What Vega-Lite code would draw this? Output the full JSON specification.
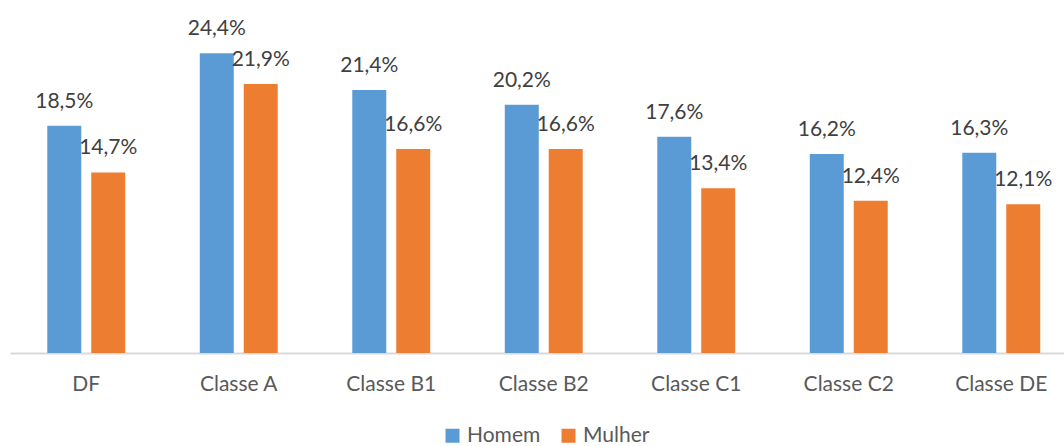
{
  "$schema": "https://vega.github.io/schema/vega-lite/v6.json",
  "width": 1054,
  "height": 344,
  "padding": {"left": 10, "top": 9, "right": 0, "bottom": 93},
  "autosize": {"type": "none"},
  "config": {
    "locale": {"number": {"decimal": ",", "thousands": ".", "grouping": [3], "currency": ["R$", ""]}},
    "view": {"stroke": null},
    "font": "Lato"
  },
  "data": {
    "values": [
      {"cat": "DF", "sexo": "Homem", "v": 0.185},
      {"cat": "DF", "sexo": "Mulher", "v": 0.147},
      {"cat": "Classe A", "sexo": "Homem", "v": 0.244},
      {"cat": "Classe A", "sexo": "Mulher", "v": 0.219},
      {"cat": "Classe B1", "sexo": "Homem", "v": 0.214},
      {"cat": "Classe B1", "sexo": "Mulher", "v": 0.166},
      {"cat": "Classe B2", "sexo": "Homem", "v": 0.202},
      {"cat": "Classe B2", "sexo": "Mulher", "v": 0.166},
      {"cat": "Classe C1", "sexo": "Homem", "v": 0.176},
      {"cat": "Classe C1", "sexo": "Mulher", "v": 0.134},
      {"cat": "Classe C2", "sexo": "Homem", "v": 0.162},
      {"cat": "Classe C2", "sexo": "Mulher", "v": 0.124},
      {"cat": "Classe DE", "sexo": "Homem", "v": 0.163},
      {"cat": "Classe DE", "sexo": "Mulher", "v": 0.121}
    ]
  },
  "encoding": {
    "x": {
      "field": "cat", "type": "nominal", "sort": null,
      "scale": {"range": [0, 1067.5], "paddingInner": 0.489, "paddingOuter": 0.2445},
      "axis": {"title": null, "labelAngle": 0, "domainColor": "#d9d9d9", "domainWidth": 2, "ticks": false,
               "labelFontSize": 21, "labelColor": "#595959", "labelPadding": 20}
    },
    "xOffset": {"field": "sexo", "type": "nominal", "sort": ["Homem", "Mulher"], "scale": {"paddingInner": 0.227, "paddingOuter": 0}},
    "y": {"field": "v", "type": "quantitative", "scale": {"domain": [0, 0.28]}, "axis": null}
  },
  "layer": [
    {
      "mark": {"type": "bar"},
      "encoding": {
        "color": {
          "field": "sexo", "type": "nominal", "sort": ["Homem", "Mulher"],
          "scale": {"domain": ["Homem", "Mulher"], "range": ["#5B9BD5", "#ED7D31"]},
          "legend": {"title": null, "orient": "none", "legendX": 432, "legendY": 416, "direction": "horizontal",
                     "symbolType": "square", "symbolSize": 196, "symbolStrokeWidth": 0, "symbolOpacity": 1,
                     "labelFontSize": 21, "labelColor": "#595959", "labelOffset": 4, "columnPadding": 17}
        }
      }
    },
    {
      "mark": {"type": "text", "dy": -18, "baseline": "alphabetic", "fontSize": 21, "color": "#404040"},
      "encoding": {"text": {"field": "v", "type": "quantitative", "format": ".1%"}}
    }
  ]
}
